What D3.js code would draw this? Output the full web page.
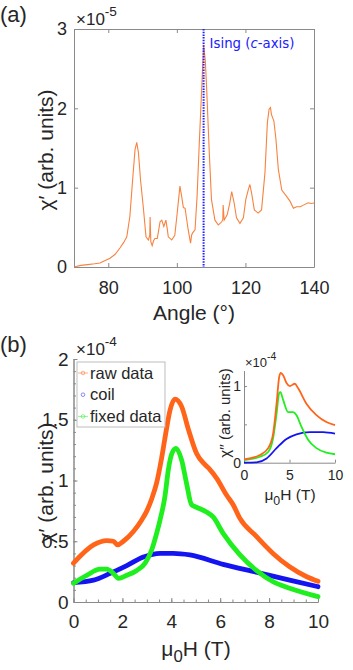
<!DOCTYPE html>
<html>
<head>
<meta charset="utf-8">
<script src="https://cdn.jsdelivr.net/npm/d3@7"></script>
<style>
  body { margin: 0; background: #fff; }
  text { font-family: "Liberation Sans", Arial, sans-serif; fill: #262626; }
</style>
</head>
<body>
<div id="chart"></div>
<script>
// ---- panel (a): chi' vs angle (x1e-5)
const angle = [70, 72, 74, 76, 77.6, 78, 80.5, 82, 83.4, 84.5, 85.4, 86.3, 87.1, 87.8, 88.3, 88.8, 89.4, 90.2, 91, 91.7,
  92.1, 92.2, 92.4, 92.8, 93.2, 93.6, 94.3, 95.1, 95.6, 96.2, 96.8, 97.2, 97.5, 98.5, 99.4, 100.1, 100.9, 101.4, 101.9, 102.4,
  103.3, 104.0, 104.3, 104.6, 105.3, 105.9, 106.5, 107.2, 107.8, 108.3, 108.7, 109.5, 110.1, 111.1, 112.1, 113.1, 113.4, 113.5,
  113.8, 114.7, 115.4, 116.0, 116.7, 117.4, 118.4, 119.4, 120.1, 120.8, 121.3, 121.8, 122.6, 123.7, 124.7, 125.7, 126.4, 126.9,
  127.3, 127.6, 128.3, 128.9, 129.6, 130.6, 132.0, 133.0, 134.0, 134.9, 136.0, 136.9, 138.3, 139.2, 140.3];
const chiAngle = [0.00, 0.02, 0.03, 0.04, 0.05, 0.06, 0.11, 0.16, 0.24, 0.31, 0.38, 0.64, 1.10, 1.48, 1.57, 1.44, 1.10, 0.76, 0.38, 0.34,
  0.40, 0.63, 0.32, 0.27, 0.33, 0.36, 0.36, 0.57, 0.59, 0.51, 0.59, 0.48, 0.38, 0.34, 0.40, 0.68, 1.02, 0.89, 0.75, 0.74,
  0.47, 0.30, 0.40, 0.43, 0.47, 0.89, 1.52, 2.20, 2.80, 2.60, 2.24, 1.40, 0.85, 0.59, 0.53, 0.57, 0.60, 0.78,
  0.59, 0.66, 0.80, 0.95, 0.81, 0.62, 0.55, 0.62, 0.85, 0.97, 1.04, 0.93, 0.72, 0.68, 0.72, 1.19, 1.82, 1.99,
  2.01, 1.92, 1.84, 1.61, 1.23, 0.97, 0.89, 0.83, 0.74, 0.76, 0.76, 0.78, 0.81, 0.80, 0.81];
const isingAngle = 107.8;
const angleTicks = [80, 100, 120, 140];
const chiATicks = [0, 1, 2, 3];

// ---- panel (b): chi' vs field (x1e-4)
const rawH = [0, 0.82, 1.36, 1.63, 1.80, 2.04, 2.45, 2.79, 3.0, 3.2, 3.4, 3.6, 3.8, 3.95, 4.15, 4.42, 4.7, 5.04, 5.38, 5.58, 5.85, 6.26, 6.53, 6.8, 7.48, 8.16, 8.84, 9.52, 10];
const rawChi = [0.32, 0.47, 0.505, 0.50, 0.47, 0.50, 0.58, 0.675, 0.75, 0.85, 0.98, 1.18, 1.42, 1.58, 1.67, 1.61, 1.42, 1.22, 1.13, 1.09, 1.02, 0.88, 0.80, 0.69, 0.54, 0.40, 0.29, 0.21, 0.17];
const coilH = [0, 0.82, 1.5, 2.18, 2.86, 3.54, 4.08, 4.76, 6.12, 7.48, 8.84, 10];
const coilChi = [0.16, 0.18, 0.236, 0.30, 0.37, 0.40, 0.40, 0.387, 0.31, 0.245, 0.18, 0.126];
const fixedH = [0, 0.54, 1.09, 1.36, 1.63, 1.84, 2.18, 2.59, 2.93, 3.2, 3.4, 3.54, 3.74, 3.88, 4.02, 4.19, 4.42, 4.62, 4.83, 5.03, 5.44, 5.71, 6.12, 6.8, 7.48, 8.16, 8.84, 10];
const fixedChi = [0.155, 0.22, 0.27, 0.27, 0.236, 0.195, 0.22, 0.26, 0.32, 0.43, 0.565, 0.675, 0.87, 1.09, 1.22, 1.265, 1.17, 0.98, 0.80, 0.78, 0.74, 0.70, 0.565, 0.39, 0.26, 0.167, 0.113, 0.044];
const fieldTicks = [0, 2, 4, 6, 8, 10];
const chiBTicks = [0, 0.5, 1, 1.5, 2];
const legendNames = ['raw data', 'coil', 'fixed data'];

// ---- inset: chi'' vs field (x1e-4)
const insetRawH = [0, 1.75, 2.66, 3.2, 3.58, 3.87, 4.05, 4.3, 4.67, 5.04, 5.58, 5.95, 6.86, 7.96, 9.05, 10];
const insetRawChi = [0.044, 0.10, 0.19, 0.38, 0.77, 1.12, 1.17, 1.14, 1.04, 1.0, 1.03, 0.97, 0.77, 0.62, 0.53, 0.49];
const insetFixedH = [0, 1.75, 2.66, 3.2, 3.58, 3.87, 4.0, 4.3, 4.85, 5.4, 5.77, 6.31, 7.04, 7.96, 9.05, 10];
const insetFixedChi = [0.035, 0.078, 0.14, 0.32, 0.64, 0.91, 0.92, 0.82, 0.66, 0.66, 0.62, 0.47, 0.30, 0.19, 0.13, 0.11];
const insetCoilH = [0, 1.39, 2.48, 3.58, 4.67, 5.77, 7.23, 8.69, 10];
const insetCoilChi = [0.0, 0.005, 0.056, 0.19, 0.31, 0.37, 0.40, 0.40, 0.38];
const insetFieldTicks = [0, 5, 10];
const insetChiTicks = [0, 1];

const colors = { raw: '#ff6419', coil: '#1414f0', fixed: '#1fee1f', angle: '#f8823f', axis: '#8a8a8a' };

const svg = d3.select('#chart').append('svg')
  .attr('width', 353).attr('height', 670);

// helper for the mu_0 H label
function fieldLabel(sel, x, y, size) {
  const t = sel.append('text').attr('x', x).attr('y', y)
    .attr('text-anchor', 'middle').style('font-size', size + 'px');
  t.append('tspan').text('μ');
  t.append('tspan').attr('dy', size * 0.3).style('font-size', (size * 0.8) + 'px').text('0');
  t.append('tspan').attr('dy', -size * 0.3).text('H (T)');
  return t;
}

function exponent(sel, x, y, size, power) {
  const t = sel.append('text').attr('x', x).attr('y', y).style('font-size', size + 'px');
  t.append('tspan').text('×10');
  t.append('tspan').attr('dy', -size * 0.55).style('font-size', (size * 0.8) + 'px').text(power);
}

function chiLabel(sel, x, y, size, primes) {
  sel.append('text')
    .attr('transform', `translate(${x},${y}) rotate(-90)`)
    .attr('text-anchor', 'middle')
    .style('font-size', size + 'px')
    .text('χ' + primes + ' (arb. units)');
}

const fmt = d => String(d);
const styler = size => g => {
  g.select('.domain').attr('stroke', colors.axis);
  g.selectAll('.tick line').attr('stroke', colors.axis);
  g.selectAll('.tick text').style('font-size', size + 'px').attr('fill', '#262626');
};

// ================= panel (a) =================
const ax = d3.scaleLinear().domain([70, 140]).range([74, 314]);
const ay = d3.scaleLinear().domain([0, 3]).range([267, 29]);

svg.append('defs').append('clipPath').attr('id', 'clipA')
  .append('rect').attr('x', 74).attr('y', 29).attr('width', 240).attr('height', 238);

const gA = svg.append('g');

gA.append('g').attr('transform', 'translate(0,267)')
  .call(d3.axisBottom(ax).tickValues(angleTicks).tickSize(-4).tickPadding(14).tickSizeOuter(0).tickFormat(fmt))
  .call(styler(18));
gA.append('g').attr('transform', 'translate(0,29)')
  .call(d3.axisTop(ax).tickValues(angleTicks).tickSize(-4).tickFormat('').tickSizeOuter(0))
  .call(styler(18));
gA.append('g').attr('transform', 'translate(74,0)')
  .call(d3.axisLeft(ay).tickValues(chiATicks).tickSize(-4).tickPadding(7).tickSizeOuter(0).tickFormat(fmt))
  .call(styler(18));
gA.append('g').attr('transform', 'translate(314,0)')
  .call(d3.axisRight(ay).tickValues(chiATicks).tickSize(-4).tickFormat('').tickSizeOuter(0))
  .call(styler(18));

gA.append('path')
  .datum(angle.map((a, i) => [a, chiAngle[i]]))
  .attr('clip-path', 'url(#clipA)')
  .attr('fill', 'none')
  .attr('stroke', colors.angle)
  .attr('stroke-width', 1.1)
  .attr('d', d3.line().x(d => ax(d[0])).y(d => ay(d[1])));

gA.append('line')
  .attr('x1', ax(isingAngle)).attr('x2', ax(isingAngle))
  .attr('y1', ay(3)).attr('y2', ay(0))
  .attr('stroke', '#2020ff').attr('stroke-width', 2)
  .attr('stroke-dasharray', '1.5,1.2');

gA.append('text')
  .attr('x', ax(isingAngle) + 6).attr('y', 48)
  .style('font-family', '"DejaVu Sans", sans-serif')
  .style('font-size', '13.3px').style('fill', '#2020ff')
  .html('Ising (<tspan font-style="italic">c</tspan>-axis)');

exponent(gA, 76, 25, 17, '-5');
chiLabel(gA, 53, 150, 21, '′');
gA.append('text').attr('x', 194).attr('y', 320).attr('text-anchor', 'middle')
  .style('font-size', '21px').text('Angle (°)');
gA.append('text').attr('x', 0).attr('y', 22).style('font-size', '22px').text('(a)');

// ================= panel (b) =================
const bx = d3.scaleLinear().domain([0, 10]).range([73.5, 318]);
const by = d3.scaleLinear().domain([0, 2]).range([602, 359]);
const gB = svg.append('g');

gB.append('g').attr('transform', 'translate(0,602)')
  .call(d3.axisBottom(bx).tickValues(d3.range(0, 10.01, 0.5)).tickSize(-2.5).tickFormat('').tickSizeOuter(0))
  .call(styler(18));
gB.append('g').attr('transform', 'translate(0,602)')
  .call(d3.axisBottom(bx).tickValues(fieldTicks).tickSize(-4).tickPadding(13).tickSizeOuter(0).tickFormat(fmt))
  .call(styler(19));
gB.append('g').attr('transform', 'translate(73.5,0)')
  .call(d3.axisLeft(by).tickValues(d3.range(0, 2.01, 0.1)).tickSize(-2.5).tickFormat('').tickSizeOuter(0))
  .call(styler(18));
gB.append('g').attr('transform', 'translate(73.5,0)')
  .call(d3.axisLeft(by).tickValues(chiBTicks).tickSize(-4).tickPadding(5).tickSizeOuter(0).tickFormat(fmt))
  .call(styler(19));

const lineB = d3.line().x(d => bx(d[0])).y(d => by(d[1])).curve(d3.curveMonotoneX);
const seriesB = [
  { name: 'raw', h: rawH, v: rawChi },
  { name: 'coil', h: coilH, v: coilChi },
  { name: 'fixed', h: fixedH, v: fixedChi }
];
seriesB.forEach(s => {
  gB.append('path')
    .datum(s.h.map((h, i) => [h, s.v[i]]))
    .attr('fill', 'none')
    .attr('stroke', colors[s.name])
    .attr('stroke-width', 4.8)
    .attr('stroke-linecap', 'round')
    .attr('d', lineB);
});

// legend
const leg = gB.append('g').attr('transform', 'translate(77,362)');
leg.append('rect').attr('width', 88).attr('height', 65)
  .attr('fill', '#fff').attr('stroke', '#bdbdbd').attr('stroke-width', 1);
legendNames.forEach((n, i) => {
  const c = [colors.raw, colors.coil, colors.fixed][i];
  const y = 11 + i * 21.7;
  if (i !== 1) {
    leg.append('line').attr('x1', 1).attr('x2', 11).attr('y1', y).attr('y2', y)
      .attr('stroke', c).attr('stroke-opacity', 0.5).attr('stroke-width', 1);
  }
  leg.append('circle').attr('cx', 6).attr('cy', y).attr('r', 1.8)
    .attr('fill', 'none').attr('stroke', c).attr('stroke-opacity', 0.6).attr('stroke-width', 0.8);
  leg.append('text').attr('x', 13).attr('y', y + 5.5).style('font-size', '16.5px').text(n);
});

exponent(gB, 76, 355, 17, '-4');
chiLabel(gB, 53, 483, 21, '′');
fieldLabel(gB, 196, 656, 21);
gB.append('text').attr('x', 0).attr('y', 352).style('font-size', '22px').text('(b)');

// ================= inset =================
const ix = d3.scaleLinear().domain([0, 10]).range([244, 335]);
const iy = d3.scaleLinear().domain([0, 1.2]).range([462.7, 370.7]);
const gI = svg.append('g');

gI.append('g').attr('transform', 'translate(0,462.7)')
  .call(d3.axisBottom(ix).tickValues(insetFieldTicks).tickSize(-3).tickPadding(7).tickSizeOuter(0).tickFormat(fmt))
  .call(styler(14));
gI.append('g').attr('transform', 'translate(244,0)')
  .call(d3.axisLeft(iy).tickValues([0.5]).tickSize(-3).tickFormat('').tickSizeOuter(0))
  .call(styler(14));
gI.append('g').attr('transform', 'translate(244,0)')
  .call(d3.axisLeft(iy).tickValues(insetChiTicks).tickSize(-3).tickPadding(3).tickSizeOuter(0).tickFormat(fmt))
  .call(styler(14));

const lineI = d3.line().x(d => ix(d[0])).y(d => iy(d[1])).curve(d3.curveMonotoneX);
[
  { name: 'coil', h: insetCoilH, v: insetCoilChi },
  { name: 'fixed', h: insetFixedH, v: insetFixedChi },
  { name: 'raw', h: insetRawH, v: insetRawChi }
].forEach(s => {
  gI.append('path')
    .datum(s.h.map((h, i) => [h, s.v[i]]))
    .attr('fill', 'none')
    .attr('stroke', colors[s.name])
    .attr('stroke-width', 1.8)
    .attr('d', lineI);
});

exponent(gI, 245, 367, 13, '-4');
chiLabel(gI, 230, 413, 15, '′′');
fieldLabel(gI, 290, 500, 15.5);
</script>
</body>
</html>
